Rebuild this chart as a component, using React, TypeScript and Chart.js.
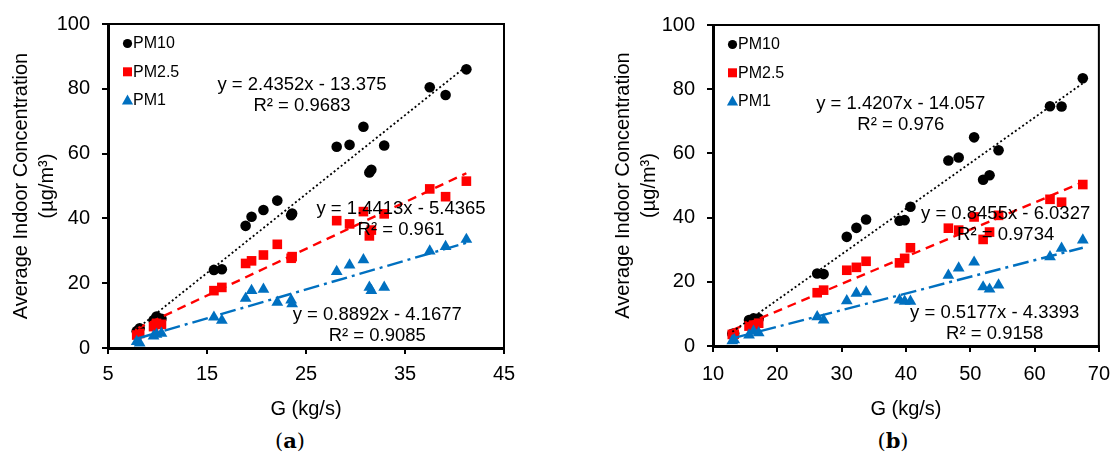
import React, { useEffect, useRef } from "react";
import { Chart, registerables } from "chart.js";

Chart.register(...registerables);
Chart.defaults.font.family = "'Liberation Sans', Arial, sans-serif";
Chart.defaults.color = "#000";

// ---------- data ----------
const seriesLabels = ["PM10", "PM2.5", "PM1"];
const seriesColors = ["#000000", "#FF0000", "#0070C0"];
const seriesStyles = ["circle", "rect", "triangle"];

// panel (a)
const gA = [7.9, 8.2, 9.6, 9.9, 10.4, 15.7, 16.5, 18.9, 19.5, 20.7, 22.1, 23.5, 23.6, 28.1, 29.4, 30.8, 31.4, 31.6, 32.9, 37.5, 39.1, 41.2];
const pm10A = [5.2, 6.1, 8.6, 9.7, 9.0, 24.1, 24.3, 37.7, 40.5, 42.6, 45.5, 41.0, 41.5, 62.1, 62.7, 68.3, 54.2, 55.0, 62.5, 80.5, 78.1, 86.0];
const pm25A = [4.0, 4.5, 6.6, 7.6, 7.3, 17.7, 18.7, 26.1, 26.9, 28.7, 32.0, 27.7, 28.2, 39.3, 38.3, 42.1, 34.6, 36.4, 41.4, 49.1, 46.7, 51.5];
const pm1A = [2.0, 1.5, 3.7, 4.2, 4.5, 9.5, 8.5, 15.3, 17.7, 18.1, 14.1, 14.8, 13.6, 23.6, 25.6, 27.2, 18.7, 17.7, 18.7, 29.9, 31.3, 33.5];
const slopeA = [2.4352, 1.4413, 0.8892];
const interceptA = [-13.375, -5.4365, -4.1677];
const eqA = ["y = 2.4352x - 13.375", "y = 1.4413x - 5.4365", "y = 0.8892x - 4.1677"];
const r2A = ["R² = 0.9683", "R² = 0.961", "R² = 0.9085"];
const xTicksA = [5, 45, 10];

// panel (b)
const gB = [13.0, 13.3, 15.6, 16.3, 17.1, 26.2, 27.2, 30.8, 32.3, 33.8, 39.0, 39.8, 40.7, 46.6, 48.2, 50.6, 52.0, 53.0, 54.4, 62.4, 64.2, 67.5];
const pm10B = [3.8, 3.9, 8.1, 8.6, 8.6, 22.6, 22.4, 34.0, 36.8, 39.4, 39.0, 39.2, 43.4, 57.8, 58.7, 65.0, 51.8, 53.2, 61.0, 74.7, 74.6, 83.4];
const pm25B = [3.6, 3.7, 6.2, 6.5, 7.1, 16.6, 17.4, 23.6, 24.5, 26.4, 25.9, 27.3, 30.6, 36.7, 36.1, 40.2, 33.2, 35.5, 40.7, 45.7, 44.8, 50.3];
const pm1B = [1.6, 1.9, 3.4, 4.6, 4.1, 9.1, 8.1, 14.1, 16.4, 16.9, 14.3, 13.9, 13.9, 22.0, 24.3, 26.1, 18.4, 17.7, 19.0, 27.8, 30.4, 33.0];
const slopeB = [1.4207, 0.8455, 0.5177];
const interceptB = [-14.057, -6.0327, -4.3393];
const eqB = ["y = 1.4207x - 14.057", "y = 0.8455x - 6.0327", "y = 0.5177x - 4.3393"];
const r2B = ["R² = 0.976", "R² = 0.9734", "R² = 0.9158"];
const xTicksB = [10, 70, 10];

const yTicks = [0, 100, 20];
const yTitle = ["Average Indoor Concentration", "(µg/m³)"];
const xTitle = "G (kg/s)";

// ---------- styling ----------
const pointRadii = [5.3, 6.8, 6.8];
const trendDash = [[2, 2.5], [9, 6], [16, 5, 3, 5]];
const trendWidth = [1.8, 2.4, 2.4];

type Panel = {
  g: number[];
  series: number[][];
  slope: number[];
  intercept: number[];
  eq: string[];
  r2: string[];
  xTicks: number[];
  notePos: { x: number; y: number }[];
  yAxisWidth: number;
  yTitlePad: number;
  xAxisHeight: number;
  xTickPad: number;
  padRight: number;
  padTop: number;
};

const overlayPlugin = {
  id: "overlay",
  afterDatasetsDraw(chart: any, _args: any, opts: any) {
    const ctx = chart.ctx;
    const { left, top, right, bottom } = chart.chartArea;
    ctx.save();
    // top & right frame
    ctx.strokeStyle = "#000";
    ctx.lineWidth = 2;
    ctx.setLineDash([]);
    ctx.beginPath();
    ctx.moveTo(left, top);
    ctx.lineTo(right, top);
    ctx.lineTo(right, bottom);
    ctx.stroke();

    // legend
    ctx.font = "16px 'Liberation Sans', Arial, sans-serif";
    ctx.textBaseline = "middle";
    ctx.textAlign = "left";
    seriesLabels.forEach((lab, i) => {
      const mx = left + 19.5;
      const my = top + 19.5 + i * 28.3;
      ctx.fillStyle = seriesColors[i];
      ctx.beginPath();
      if (seriesStyles[i] === "circle") {
        ctx.arc(mx, my, 4.6, 0, Math.PI * 2);
      } else if (seriesStyles[i] === "rect") {
        ctx.rect(mx - 4.5, my - 4.5, 9, 9);
      } else {
        ctx.moveTo(mx, my - 5.5);
        ctx.lineTo(mx + 5.6, my + 4.3);
        ctx.lineTo(mx - 5.6, my + 4.3);
        ctx.closePath();
      }
      ctx.fill();
      ctx.fillStyle = "#000";
      ctx.fillText(lab, mx + 5.5, my + 0.5);
    });

    // trendline equations
    const xs = chart.scales.x;
    const ys = chart.scales.y;
    ctx.font = "18.5px 'Liberation Sans', Arial, sans-serif";
    ctx.textAlign = "center";
    ctx.fillStyle = "#000";
    (opts.notes || []).forEach((n: any) => {
      const px = xs.getPixelForValue(n.x);
      const py = ys.getPixelForValue(n.y);
      ctx.fillText(n.lines[0], px, py);
      ctx.fillText(n.lines[1], px, py + 21);
    });
    ctx.restore();
  },
};

function buildConfig(p: Panel): any {
  const minX = Math.min(...p.g);
  const maxX = Math.max(...p.g);
  const datasets: any[] = [];
  p.series.forEach((vals, i) => {
    datasets.push({
      label: seriesLabels[i],
      data: p.g.map((x, k) => ({ x, y: vals[k] })),
      pointStyle: seriesStyles[i],
      pointRadius: pointRadii[i],
      pointBackgroundColor: seriesColors[i],
      pointBorderColor: seriesColors[i],
      pointBorderWidth: 0,
      showLine: false,
      order: 3 - i,
    });
  });
  p.series.forEach((_v, i) => {
    datasets.push({
      label: seriesLabels[i] + " trend",
      data: [
        { x: minX, y: p.slope[i] * minX + p.intercept[i] },
        { x: maxX, y: p.slope[i] * maxX + p.intercept[i] },
      ],
      showLine: true,
      borderColor: seriesColors[i],
      borderWidth: trendWidth[i],
      borderDash: trendDash[i],
      pointRadius: 0,
      fill: false,
      order: 0,
    });
  });

  return {
    type: "scatter",
    data: { datasets },
    plugins: [overlayPlugin],
    options: {
      animation: false,
      responsive: true,
      maintainAspectRatio: false,
      events: [],
      layout: { padding: { left: 0, top: p.padTop, right: p.padRight, bottom: 0 } },
      plugins: {
        legend: { display: false },
        tooltip: { enabled: false },
        overlay: {
          notes: p.notePos.map((pos, i) => ({ x: pos.x, y: pos.y, lines: [p.eq[i], p.r2[i]] })),
        },
      },
      scales: {
        x: {
          type: "linear",
          min: p.xTicks[0],
          max: p.xTicks[1],
          ticks: { stepSize: p.xTicks[2], color: "#000", font: { size: 20 }, padding: p.xTickPad, maxRotation: 0 },
          grid: { display: true, drawOnChartArea: false, drawTicks: true, tickLength: 6, color: "#000", lineWidth: 2 },
          border: { display: true, color: "#000", width: 3 },
          title: { display: true, text: xTitle, color: "#000", font: { size: 20 }, padding: { top: 0, bottom: 4 } },
          afterFit: (s: any) => {
            s.height = p.xAxisHeight;
          },
        },
        y: {
          type: "linear",
          min: yTicks[0],
          max: yTicks[1],
          ticks: { stepSize: yTicks[2], color: "#000", font: { size: 20 }, padding: 12 },
          grid: { display: true, drawOnChartArea: false, drawTicks: true, tickLength: 6, color: "#000", lineWidth: 2 },
          border: { display: true, color: "#000", width: 3 },
          title: {
            display: true,
            text: yTitle,
            color: "#000",
            font: { size: 20, lineHeight: 1.3 },
            padding: { top: p.yTitlePad, bottom: 0 },
          },
          afterFit: (s: any) => {
            s.width = p.yAxisWidth;
          },
        },
      },
    },
  };
}

function ChartPanel({ panel, left }: { panel: Panel; left: number }) {
  const ref = useRef<HTMLCanvasElement | null>(null);
  useEffect(() => {
    if (!ref.current) return;
    const chart = new Chart(ref.current, buildConfig(panel));
    return () => chart.destroy();
  }, [panel]);
  return (
    <div style={{ position: "absolute", left, top: 0, width: 560, height: 425 }}>
      <canvas ref={ref} />
    </div>
  );
}

const panelA: Panel = {
  g: gA,
  series: [pm10A, pm25A, pm1A],
  slope: slopeA,
  intercept: interceptA,
  eq: eqA,
  r2: r2A,
  xTicks: xTicksA,
  notePos: [
    { x: 24.6, y: 81.2 },
    { x: 34.6, y: 42.9 },
    { x: 32.2, y: 10.2 },
  ],
  yAxisWidth: 108,
  yTitlePad: 8,
  xAxisHeight: 77,
  xTickPad: 8,
  padRight: 56,
  padTop: 24,
};

const panelB: Panel = {
  g: gB,
  series: [pm10B, pm25B, pm1B],
  slope: slopeB,
  intercept: interceptB,
  eq: eqB,
  r2: r2B,
  xTicks: xTicksB,
  notePos: [
    { x: 39.2, y: 75.4 },
    { x: 55.5, y: 41.2 },
    { x: 53.8, y: 10.2 },
  ],
  yAxisWidth: 153,
  yTitlePad: 50,
  xAxisHeight: 79,
  xTickPad: 10,
  padRight: 12,
  padTop: 25,
};

const captionStyle: React.CSSProperties = {
  position: "absolute",
  top: 429,
  transform: "translateX(-50%)",
  fontFamily: "'DejaVu Serif', 'Liberation Serif', serif",
  fontSize: 21,
  lineHeight: "24px",
  color: "#000",
  whiteSpace: "nowrap",
};

export default function App() {
  return (
    <div style={{ position: "absolute", left: 0, top: 0, width: 1120, height: 458, background: "#fff", overflow: "hidden" }}>
      <ChartPanel panel={panelA} left={0} />
      <ChartPanel panel={panelB} left={560} />
      <div style={{ ...captionStyle, left: 290 }}>
        (<b>a</b>)
      </div>
      <div style={{ ...captionStyle, left: 893 }}>
        (<b>b</b>)
      </div>
    </div>
  );
}
